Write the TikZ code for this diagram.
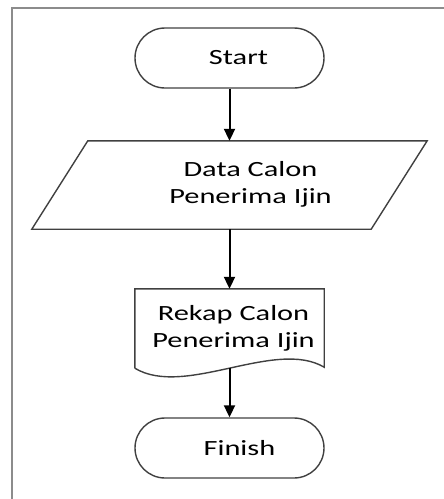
\documentclass[tikz,border=0pt]{standalone}
\usepackage{fontspec}
\setmainfont{Carlito}
\usepackage{tikz}
\usetikzlibrary{arrows.meta,positioning}
\newcommand{\widetxt}[1]{\scalebox{1.4}[1]{#1}}
\newcommand{\twolines}[2]{\begin{tabular}{@{}c@{}}\widetxt{#1}\\\widetxt{#2}\end{tabular}}
\tikzset{>={Triangle[length=12pt,width=11pt]}}
\tikzset{
    flowfont/.style={font=\fontsize{21.7}{27}\selectfont},
    terminal/.style={rectangle,rounded corners=30pt,draw=black!75,line width=1.4pt,minimum width=189pt,minimum height=60pt,inner sep=0pt,flowfont},
    iobox/.style={rectangle,minimum width=339pt,minimum height=88pt,inner sep=0pt,flowfont},
    docbox/.style={rectangle,minimum width=189pt,minimum height=79pt,inner sep=0pt,flowfont},
    shapeline/.style={draw=black!75,line width=1.4pt},
    flow/.style={->,line width=2pt},
    frame/.style={draw=black!45,line width=2pt},
}
\begin{document}
\begin{tikzpicture}[x=1pt,y=1pt]
		\useasboundingbox (0,0) rectangle (444,-499);
		\draw[frame] (11.5,-502) -- (11.5,-7.5) -- (446,-7.5);

		\node[terminal] (start) at (229.5,-58) {\hspace*{18pt}\widetxt{Start}};
		\node[iobox] (data) at (229.5,-185) {\hspace*{42pt}\raisebox{-3pt}{\twolines{Data Calon}{Penerima Ijin}}};
		\node[docbox] (rekap) at (229.5,-328.5) {\hspace*{8pt}\raisebox{9pt}{\twolines{Rekap Calon}{Penerima Ijin}}};
		\node[terminal] (finish) at (229.5,-448) {\hspace*{20pt}\widetxt{Finish}};

		\draw[shapeline] ([xshift=28pt]data.north west) -- ([xshift=28pt]data.north east)
			-- ([xshift=-28pt]data.south east) -- ([xshift=-28pt]data.south west) -- cycle;
		\draw[shapeline] (rekap.south west) -- (rekap.north west) -- (rekap.north east)
			-- ([yshift=1pt]rekap.south east)
			.. controls ([xshift=-49pt,yshift=30pt]rekap.south east) and ([xshift=50pt,yshift=-30pt]rekap.south west) .. (rekap.south west);

		\draw[flow] (start) -- (data);
		\draw[flow] (data) -- (rekap);
		\draw[flow] (rekap.south) -- (finish);
	\end{tikzpicture}
\end{document}
